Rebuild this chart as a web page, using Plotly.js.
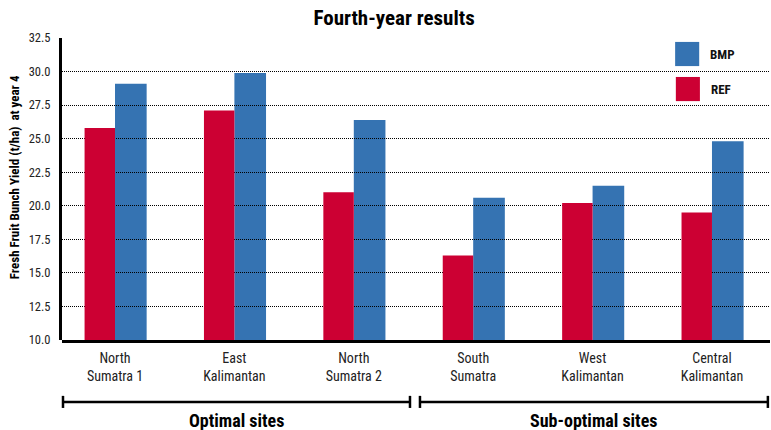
<!DOCTYPE html>
<html>
<head>
<meta charset="utf-8">
<script src="https://cdn.plot.ly/plotly-3.0.1.min.js"></script>
<style>html,body{margin:0;padding:0;background:#fff;}#chart{width:771px;height:430px;}</style>
</head>
<body>
<div id="chart"></div>
<script>
const categories = ["North<br>Sumatra 1", "East<br>Kalimantan", "North<br>Sumatra 2", "South<br>Sumatra", "West<br>Kalimantan", "Central<br>Kalimantan"];
const refValues = [25.8, 27.1, 21.0, 16.3, 20.2, 19.5];
const bmpValues = [29.1, 29.9, 26.4, 20.6, 21.5, 24.8];
const yTicks = [10, 12.5, 15, 17.5, 20, 22.5, 25, 27.5, 30, 32.5];
const groupLabels = ["Optimal sites", "Sub-optimal sites"];
const seriesNames = ["REF", "BMP"];
const chartTitle = "Fourth-year results";
const yTitle = "Fresh Fruit Bunch Yield (t/ha)  at year 4";

const FONT = "'Roboto Condensed', 'DejaVu Sans Condensed', sans-serif";
const RED = "#CC0033";
const BLUE = "#3573B2";

const xIdx = categories.map((_, i) => i);
const XR = [-0.444, 5.486];
const YR = [10, 32.5];

// BMP on the base subplot, REF on a second subplot drawn on top (so the grid sits over BMP, under REF)
const traces = [
  {type: "bar", name: seriesNames[1], x: xIdx, y: bmpValues, offset: 0, width: 0.265,
   marker: {color: BLUE, line: {width: 0}}, showlegend: false, xaxis: "x", yaxis: "y"},
  {type: "bar", name: seriesNames[0], x: xIdx, y: refValues, offset: -0.255, width: 0.255,
   marker: {color: RED, line: {width: 0}}, showlegend: false, xaxis: "x2", yaxis: "y2"}
];

const layout = {
  width: 771, height: 430,
  margin: {l: 62, r: 1, t: 38, b: 90},
  paper_bgcolor: "#fff", plot_bgcolor: "rgba(0,0,0,0)",
  font: {family: FONT, color: "#111", size: 12},
  title: {text: "<b>" + chartTitle + "</b>", xref: "paper", x: 0.469, xanchor: "center", y: 0.958, yanchor: "middle",
          font: {family: FONT, size: 21, color: "#000"}},
  barmode: "overlay",
  xaxis: {
    domain: [0, 1], range: XR, tickmode: "array", tickvals: xIdx, ticktext: categories,
    showgrid: false, zeroline: false, showline: false, ticks: "", ticklabelstandoff: 8,
    tickfont: {family: FONT, size: 14, color: "#222"}, fixedrange: true
  },
  yaxis: {
    domain: [0, 1], range: YR, tickmode: "array", tickvals: yTicks, ticktext: yTicks.map(v => v.toFixed(1)),
    showgrid: false, zeroline: false, showline: true, linecolor: "#000", linewidth: 3, ticks: "",
    tickfont: {family: FONT, size: 12.5, color: "#222"}, ticklabelstandoff: 6, fixedrange: true
  },
  xaxis2: {
    domain: [0, 1], anchor: "y2", range: XR, showticklabels: false, showgrid: false, zeroline: false,
    showline: true, linecolor: "#000", linewidth: 2.5, ticks: "", fixedrange: true
  },
  yaxis2: {
    domain: [0, 1], anchor: "x2", range: YR, tickmode: "array", tickvals: yTicks.slice(1), showticklabels: false,
    showgrid: true, gridcolor: "#000", gridwidth: 1, griddash: "1px,1px",
    zeroline: false, showline: false, ticks: "", fixedrange: true
  },
  shapes: [
    {type: "rect", xref: "paper", yref: "paper", x0: 0.866, x1: 0.900, y0: 0.907, y1: 0.987, fillcolor: BLUE, line: {width: 0}},
    {type: "rect", xref: "paper", yref: "paper", x0: 0.867, x1: 0.901, y0: 0.791, y1: 0.871, fillcolor: RED, line: {width: 0}},
    {type: "line", xref: "paper", yref: "paper", x0: 0.0014, x1: 0.4915, y0: -0.205, y1: -0.205, line: {color: "#000", width: 2.5}},
    {type: "line", xref: "paper", yref: "paper", x0: 0.0014, x1: 0.0014, y0: -0.185, y1: -0.225, line: {color: "#000", width: 2.5}},
    {type: "line", xref: "paper", yref: "paper", x0: 0.4915, x1: 0.4915, y0: -0.185, y1: -0.225, line: {color: "#000", width: 2.5}},
    {type: "line", xref: "paper", yref: "paper", x0: 0.5056, x1: 0.997, y0: -0.205, y1: -0.205, line: {color: "#000", width: 2.5}},
    {type: "line", xref: "paper", yref: "paper", x0: 0.5056, x1: 0.5056, y0: -0.185, y1: -0.225, line: {color: "#000", width: 2.5}},
    {type: "line", xref: "paper", yref: "paper", x0: 0.997, x1: 0.997, y0: -0.185, y1: -0.225, line: {color: "#000", width: 2.5}}
  ],
  annotations: [
    {xref: "paper", yref: "paper", x: -0.066, y: 0.540, xanchor: "center", yanchor: "middle", textangle: -90, showarrow: false,
     text: "<b>" + yTitle + "</b>", font: {family: FONT, size: 13, color: "#000"}},
    {xref: "paper", yref: "paper", x: 0.912, y: 0.947, xanchor: "left", yanchor: "middle", showarrow: false,
     text: "<b>" + seriesNames[1] + "</b>", font: {family: FONT, size: 13, color: "#111"}},
    {xref: "paper", yref: "paper", x: 0.914, y: 0.831, xanchor: "left", yanchor: "middle", showarrow: false,
     text: "<b>" + seriesNames[0] + "</b>", font: {family: FONT, size: 13, color: "#111"}},
    {xref: "paper", yref: "paper", x: 0.247, y: -0.268, xanchor: "center", yanchor: "middle", showarrow: false,
     text: "<b>" + groupLabels[0] + "</b>", font: {family: FONT, size: 18, color: "#000"}},
    {xref: "paper", yref: "paper", x: 0.751, y: -0.268, xanchor: "center", yanchor: "middle", showarrow: false,
     text: "<b>" + groupLabels[1] + "</b>", font: {family: FONT, size: 18, color: "#000"}}
  ]
};

Plotly.newPlot("chart", traces, layout, {displayModeBar: false, staticPlot: true});
</script>
</body>
</html>
